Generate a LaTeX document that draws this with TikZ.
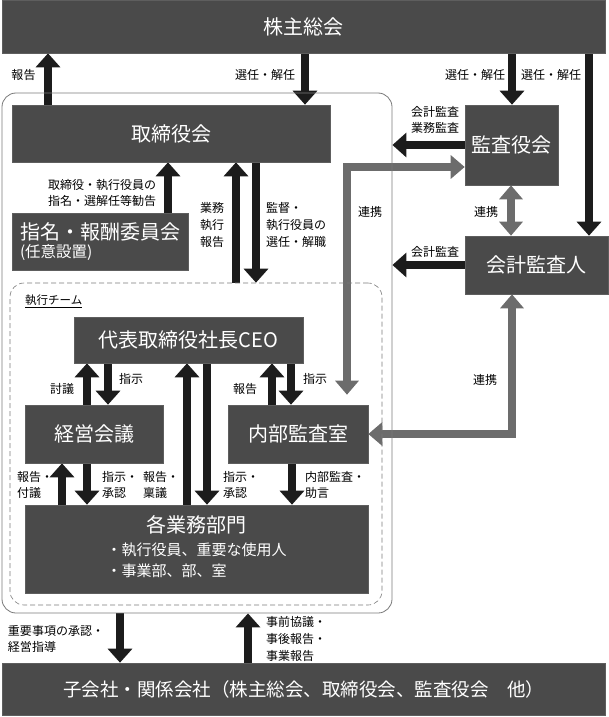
\documentclass[tikz,border=0pt]{standalone}
\usepackage{fontspec}
\setmainfont{Noto Sans CJK JP}
\usepackage{tikz}
\usetikzlibrary{arrows.meta}
\pgfdeclarelayer{edgelayer}
\pgfdeclarelayer{nodelayer}
\pgfsetlayers{main,edgelayer,nodelayer}
\definecolor{boxgray}{HTML}{4A4A4A}
\definecolor{boxedge}{HTML}{5E5E5E}
\definecolor{arrowblack}{HTML}{1C1C1C}
\definecolor{linkgray}{HTML}{6C6C6C}
\definecolor{framegray}{HTML}{7A7A7A}
\tikzstyle{note}=[inner sep=0pt, align=center, font=\fontsize{12}{15.5}\selectfont]
\tikzstyle{box}=[fill=boxgray, draw=boxedge, line width=0.6pt, text=white, inner sep=0pt, font=\fontsize{20}{24}\selectfont]
\tikzstyle{boardframe}=[draw=framegray, line width=0.8pt, rounded corners=14pt, inner sep=0pt]
\tikzstyle{teamframe}=[draw=framegray, line width=0.6pt, dash pattern=on 5pt off 3pt, rounded corners=14pt, inner sep=0pt]
\tikzstyle{blkarrow}=[draw=arrowblack, line width=8.5pt, -{Triangle[width=24pt,length=14pt]}]
\tikzstyle{linkarrow}=[draw=linkgray, line width=8.5pt, line join=miter, {Triangle[width=23pt,length=14pt]}-{Triangle[width=23pt,length=14pt]}]

\begin{document}
\begin{tikzpicture}[x=1pt, y=-1pt]
	\useasboundingbox (0,0) rectangle (609,717);
	\begin{pgfonlayer}{nodelayer}
		\node [style=boardframe, minimum width=390, minimum height=520] (5) at (197, 353) {};
		\node [style=teamframe, minimum width=372, minimum height=322] (6) at (196, 444) {};
		\node [style=box, minimum width=603, minimum height=53] (0) at (303.5, 26.5) {株主総会};
		\node [style=box, minimum width=318, minimum height=57] (1) at (171, 133.5) {取締役会};
		\node [style=box, minimum width=176, minimum height=57, align=left] (2) at (100, 241.5) {指名・報酬委員会\\[-6pt]{\fontsize{15.5}{18}\selectfont (任意設置)}};
		\node [style=box, minimum width=93, minimum height=80] (3) at (511.5, 145) {監査役会};
		\node [style=box, minimum width=143, minimum height=58] (4) at (536.5, 265) {会計監査人};
		\node [style=box, minimum width=229, minimum height=46] (7) at (188.5, 340) {代表取締役社長CEO};
		\node [style=box, minimum width=138, minimum height=58] (8) at (94, 434) {経営会議};
		\node [style=box, minimum width=140, minimum height=58] (9) at (298, 434) {内部監査室};
		\node [style=box, minimum width=343, minimum height=88, align=center] (10) at (196.5, 549) {各業務部門\\[6pt]{\fontsize{15}{20}\selectfont\begin{tabular}{@{}l@{}}・執行役員、重要な使用人\\[1pt]・事業部、部、室\end{tabular}}};
		\node [style=box, minimum width=603, minimum height=52, font=\fontsize{18.5}{22}\selectfont] (11) at (303.5, 689) {子会社・関係会社（株主総会、取締役会、監査役会　他）};
		\node [style=note] (12) at (23.5, 75) {報告};
		\node [style=note] (13) at (265, 75) {選任・解任};
		\node [style=note] (14) at (475, 75) {選任・解任};
		\node [style=note] (15) at (551, 75) {選任・解任};
		\node [style=note] (16) at (435, 120) {会計監査\\業務監査};
		\node [style=note] (17) at (435, 252) {会計監査};
		\node [style=note] (18) at (486, 212) {連携};
		\node [style=note] (19) at (370, 212) {連携};
		\node [style=note] (20) at (485, 380) {連携};
		\node [style=note, align=right] (21) at (102, 193) {取締役・執行役員の\\指名・選解任等勧告};
		\node [style=note, font=\fontsize{12}{17}\selectfont] (22) at (212, 225) {業務\\執行\\報告};
		\node [style=note, align=left, font=\fontsize{12}{17}\selectfont] (23) at (296, 225) {監督・\\執行役員の\\選任・解職};
		\node [style=note, anchor=west, font=\fontsize{11.5}{14}\selectfont] (24) at (25, 301) {\underline{執行チーム}};
		\node [style=note] (25) at (62, 389) {討議};
		\node [style=note] (26) at (131, 379) {指示};
		\node [style=note] (27) at (245, 389) {報告};
		\node [style=note] (28) at (315, 379) {指示};
		\node [style=note, align=left] (29) at (35, 485) {報告・\\付議};
		\node [style=note, align=left] (30) at (120, 485) {指示・\\承認};
		\node [style=note, align=left] (31) at (161, 485) {報告・\\稟議};
		\node [style=note, align=left] (32) at (241, 485) {指示・\\承認};
		\node [style=note, align=left] (33) at (335, 485) {内部監査・\\助言};
		\node [style=note, align=left] (34) at (56, 639) {重要事項の承認・\\経営指導};
		\node [style=note, align=left, font=\fontsize{12}{17}\selectfont] (35) at (296, 639) {事前協議・\\事後報告・\\事業報告};
	\end{pgfonlayer}
	\begin{pgfonlayer}{edgelayer}
		\draw [style=blkarrow] (1.north -| 48,0) to (0.south -| 48,0);
		\draw [style=blkarrow] (0.south -| 305,0) to (1.north -| 305,0);
		\draw [style=blkarrow] (0.south -| 512,0) to (3.north -| 512,0);
		\draw [style=blkarrow] (0.south -| 589,0) to (4.north -| 589,0);
		\draw [style=blkarrow] (3.west) to (3.west -| 5.east);
		\draw [style=blkarrow] (4.west) to (4.west -| 5.east);
		\draw [style=linkarrow] (3.south -| 511,0) to (4.north -| 511,0);
		\draw [style=linkarrow, shorten <=10pt] (9.north -| 347,0) |- (3.west |- 0,167);
		\draw [style=linkarrow] (4.south -| 512,0) |- (9.east |- 0,434);
		\draw [style=blkarrow] (2.north -| 168,0) to (1.south -| 168,0);
		\draw [style=blkarrow] (6.north -| 236,0) to (1.south -| 236,0);
		\draw [style=blkarrow] (1.south -| 256,0) to (6.north -| 256,0);
		\draw [style=blkarrow] (8.north -| 87,0) to (7.south -| 87,0);
		\draw [style=blkarrow] (7.south -| 108,0) to (8.north -| 108,0);
		\draw [style=blkarrow] (9.north -| 272,0) to (7.south -| 272,0);
		\draw [style=blkarrow] (7.south -| 291,0) to (9.north -| 291,0);
		\draw [style=blkarrow] (10.north -| 187,0) to (7.south -| 187,0);
		\draw [style=blkarrow] (7.south -| 207,0) to (10.north -| 207,0);
		\draw [style=blkarrow] (10.north -| 62,0) to (8.south -| 62,0);
		\draw [style=blkarrow] (8.south -| 87,0) to (10.north -| 87,0);
		\draw [style=blkarrow] (9.south -| 292,0) to (10.north -| 292,0);
		\draw [style=blkarrow] (5.south -| 120,0) to (11.north -| 120,0);
		\draw [style=blkarrow] (11.north -| 248,0) to (5.south -| 248,0);
	\end{pgfonlayer}
\end{tikzpicture}
\end{document}
